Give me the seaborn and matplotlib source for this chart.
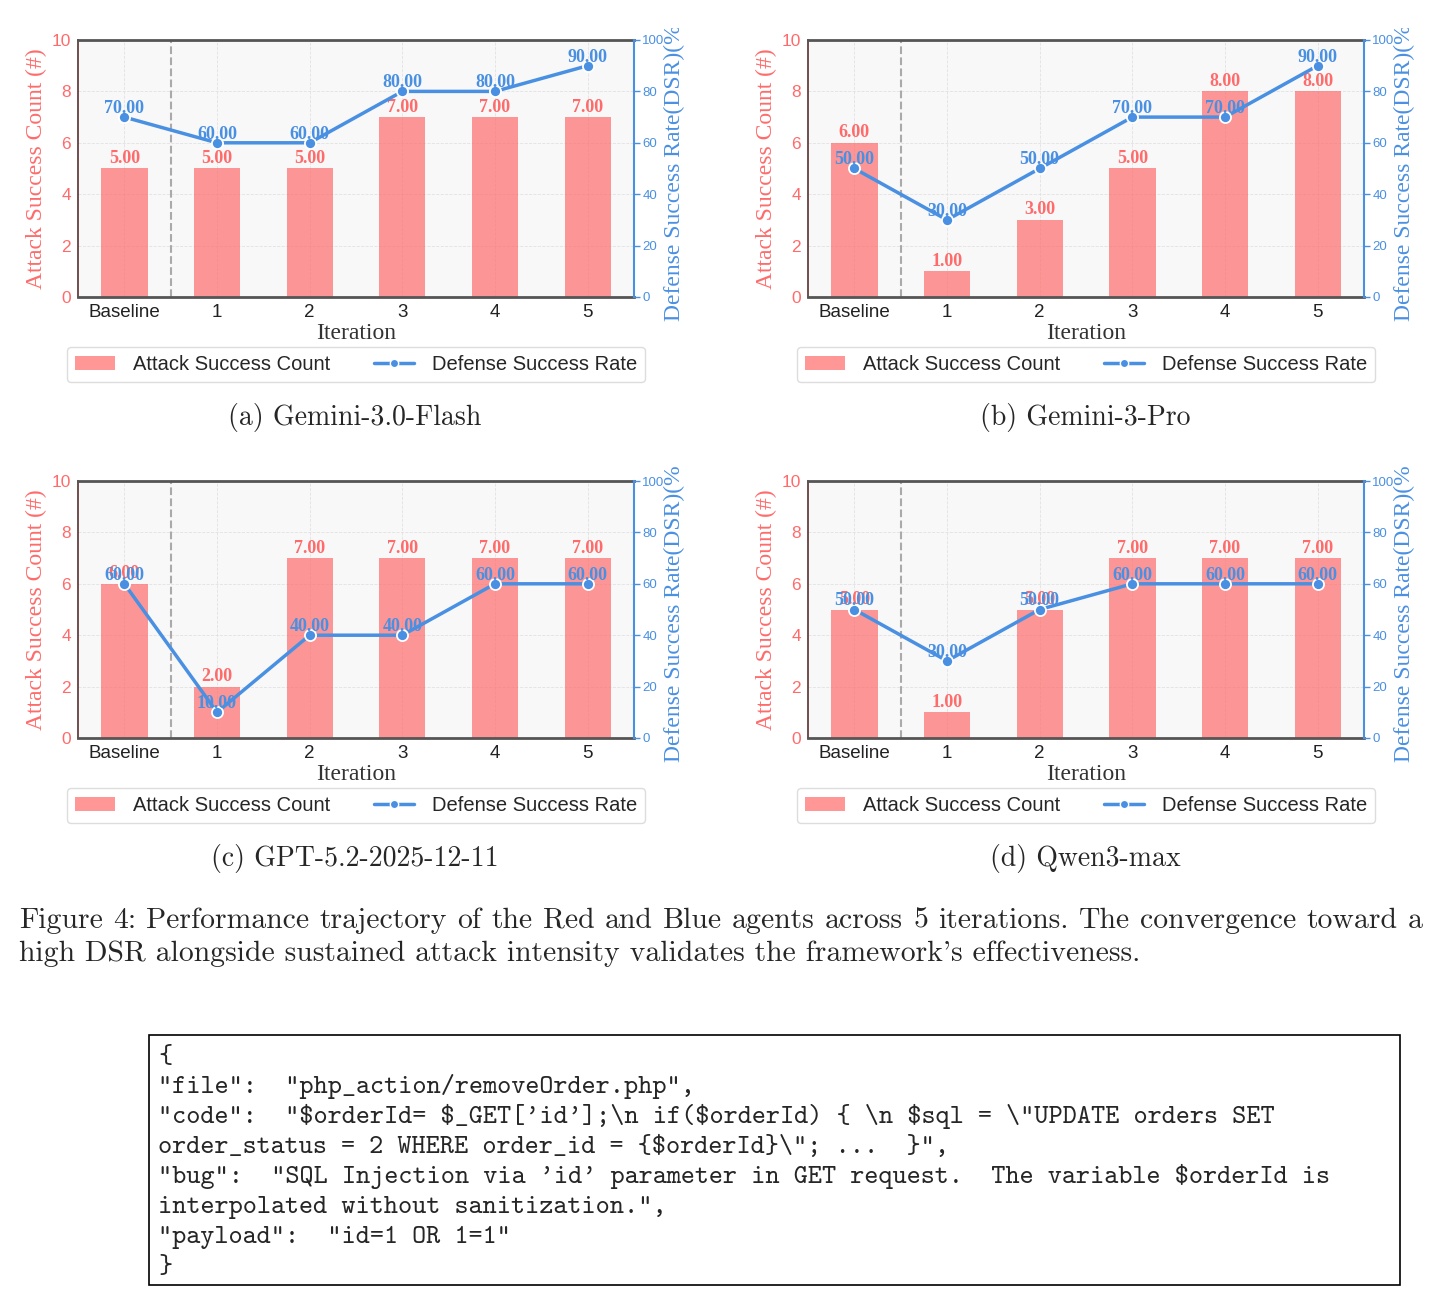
import numpy as np
import pandas as pd
import matplotlib
matplotlib.use("Agg")
import matplotlib.pyplot as plt
import seaborn as sns
from matplotlib.transforms import Bbox, TransformedBbox
from matplotlib.patches import Rectangle, Patch
from matplotlib.lines import Line2D

# ---------------- data ----------------
iterations = ["Baseline", "1", "2", "3", "4", "5"]
panel_titles = ["(a) Gemini-3.0-Flash", "(b) Gemini-3-Pro",
                "(c) GPT-5.2-2025-12-11", "(d) Qwen3-max"]
asc_flash = [5, 5, 5, 7, 7, 7]
dsr_flash = [70, 60, 60, 80, 80, 90]
asc_pro = [6, 1, 3, 5, 8, 8]
dsr_pro = [50, 30, 50, 70, 70, 90]
asc_gpt = [6, 2, 7, 7, 7, 7]
dsr_gpt = [60, 10, 40, 40, 60, 60]
asc_qwen = [5, 1, 5, 7, 7, 7]
dsr_qwen = [50, 30, 50, 60, 60, 60]

left_label = "Attack Success Count (#)"
right_label = "Defense Success Rate(DSR)(%)"
x_label = "Iteration"
legend_labels = ["Attack Success Count", "Defense Success Rate"]

caption_line1 = ("Figure 4: Performance trajectory of the Red and Blue agents across 5 "
                 "iterations. The convergence toward a")
caption_line2 = ("high DSR alongside sustained attack intensity validates the "
                 "framework's effectiveness.")

code_lines = [
    r'''{''',
    r'''"file":  "php_action/removeOrder.php",''',
    r'''"code":  "$orderId= $_GET['id'];\n if($orderId) { \n $sql = \"UPDATE orders SET''',
    r'''order_status = 2 WHERE order_id = {$orderId}\"; ...  }",''',
    r'''"bug":  "SQL Injection via 'id' parameter in GET request.  The variable $orderId is''',
    r'''interpolated without sanitization.",''',
    r'''"payload":  "id=1 OR 1=1"''',
    r'''}''',
]

# ---------------- style ----------------
sns.set_style("white")
plt.rcParams["font.family"] = ["Liberation Sans", "DejaVu Sans"]
plt.rcParams["axes.unicode_minus"] = False

RED = "#FF6B6B"
BLUE = "#4A90E2"
W, H = 1441, 1301
fig = plt.figure(figsize=(W / 100, H / 100), dpi=100)
fig.patch.set_facecolor("white")


def fx(px):
    return px / W


def fy(py):
    return 1 - py / H


def draw_panel(left_px, top_px, asc, dsr, clip_top_px):
    width_px, height_px = 556, 257
    ax = fig.add_axes([fx(left_px), fy(top_px + height_px), width_px / W, height_px / H])
    df = pd.DataFrame({"Iteration": iterations, "ASC": asc, "DSR": dsr,
                       "pos": np.arange(len(iterations))})
    ax.set_facecolor("#f8f8f8")
    sns.barplot(data=df, x="Iteration", y="ASC", ax=ax, color=RED, alpha=0.7,
                width=0.5, saturation=1, linewidth=0, zorder=2)
    ax.grid(True, axis="both", color="#dcdcdc", ls="--", lw=0.6, alpha=0.8)
    ax.set_axisbelow(True)
    ax.axvline(0.5, color="#aaaaaa", ls="--", lw=1.5, zorder=1)
    ax.set_xlim(-0.5, len(iterations) - 0.5)
    ax.set_ylim(0, 10)
    ax.set_yticks(range(0, 11, 2))
    for i, v in enumerate(asc):
        ax.annotate(f"{v:.2f}", (i, v), xytext=(0, 4), textcoords="offset points",
                    ha="center", va="baseline", color=RED, fontsize=13,
                    fontweight="bold", family="Liberation Serif", zorder=5)

    ax2 = ax.twinx()
    sns.lineplot(data=df, x="pos", y="DSR", ax=ax2, color=BLUE, lw=2.5,
                 marker="o", markersize=8, markeredgecolor="white",
                 markeredgewidth=1.3, legend=False, zorder=4)
    ax2.set_ylim(0, 100)
    ax2.set_yticks(range(0, 101, 20))
    ax.set_xlim(-0.5, len(iterations) - 0.5)
    for i, v in enumerate(dsr):
        ax2.annotate(f"{v:.2f}", (i, v), xytext=(0, 3), textcoords="offset points",
                     ha="center", va="baseline", color=BLUE, fontsize=13,
                     fontweight="bold", family="Liberation Serif", zorder=6)

    # spines
    for s in ["top", "bottom"]:
        ax.spines[s].set_color("#555555")
        ax.spines[s].set_linewidth(2)
    ax.spines["left"].set_color("#5a3030")
    ax.spines["left"].set_linewidth(1.2)
    ax.spines["right"].set_visible(False)
    for s in ["top", "bottom", "left"]:
        ax2.spines[s].set_visible(False)
    ax2.spines["right"].set_color(BLUE)
    ax2.spines["right"].set_linewidth(1.5)

    # ticks
    ax.tick_params(axis="y", labelcolor=RED, labelsize=12.5, length=0, pad=5)
    ax.tick_params(axis="x", labelcolor="#222222", labelsize=13.5, length=0, pad=5)
    ax2.tick_params(axis="y", labelcolor=BLUE, color=BLUE, labelsize=9.5,
                    length=4, width=1, direction="out", pad=2)

    # labels
    ax.set_xlabel(x_label, family="Liberation Serif", fontsize=17, color="#333333")
    ax.xaxis.set_label_coords(0.5, -0.10)
    ax.set_ylabel(left_label, family="Liberation Serif", fontsize=17, color=RED)
    ax.yaxis.set_label_coords(-0.056, 0.5)
    ax2.set_ylabel(right_label, family="Liberation Serif", fontsize=17, color=BLUE)
    ax2.yaxis.set_label_coords(1.054, 0.5)
    lab = ax2.yaxis.label
    lab.set_clip_on(True)
    lab.set_clip_box(TransformedBbox(Bbox.from_extents(0, 0, 1, fy(clip_top_px)),
                                     fig.transFigure))

    handles = [Patch(facecolor=RED, alpha=0.7, edgecolor="none"),
               Line2D([0], [0], color=BLUE, lw=2.5, marker="o", markersize=6,
                      markeredgecolor="white", markeredgewidth=1)]
    leg = ax.legend(handles, legend_labels, loc="upper center",
                    bbox_to_anchor=(0.5, -0.155), ncol=2, frameon=True,
                    fancybox=True, edgecolor="#dddddd", framealpha=1,
                    prop={"family": "Liberation Sans", "size": 14.5},
                    handlelength=2.0, handletextpad=0.85, columnspacing=2.2,
                    borderpad=0.4)
    leg.get_frame().set_linewidth(1.0)
    return ax, ax2


draw_panel(78, 40, asc_flash, dsr_flash, 28)
draw_panel(808, 40, asc_pro, dsr_pro, 28)
draw_panel(78, 481, asc_gpt, dsr_gpt, 467)
draw_panel(808, 481, asc_qwen, dsr_qwen, 467)

# ---------------- captions ----------------
renderer = fig.canvas.get_renderer()
probe = fig.text(0, 0, caption_line2, family="cmr10", fontsize=20)
w2 = probe.get_window_extent(renderer).width
cap_fs = 20 * (1141 - 19) / w2
probe.remove()

sub_fs = cap_fs * 0.935
sub_pos = [(355, 425), (1085, 425), (355, 866), (1085, 866)]
for (sx, sy), title in zip(sub_pos, panel_titles):
    fig.text(fx(sx), fy(sy), title, family="cmr10", fontsize=sub_fs,
             ha="center", va="baseline")

# justified first caption line
words = caption_line1.split(" ")
wtexts = [fig.text(0, 0, w, family="cmr10", fontsize=cap_fs, va="baseline")
          for w in words]
widths = [t.get_window_extent(renderer).width for t in wtexts]
gap = (1423 - 19 - sum(widths)) / (len(words) - 1)
xpos = 19
for t, wd in zip(wtexts, widths):
    t.set_position((fx(xpos), fy(928)))
    xpos += wd + gap
fig.text(fx(19), fy(961), caption_line2, family="cmr10", fontsize=cap_fs,
         va="baseline")

# ---------------- code box ----------------
fig.add_artist(Rectangle((fx(149), fy(1285)), (1400 - 149) / W, (1285 - 1035) / H,
                         transform=fig.transFigure, fill=False,
                         edgecolor="black", lw=1.2))
for k, line in enumerate(code_lines):
    fig.text(fx(158), fy(1063 + 30.05 * k), line, family="cmtt10", fontsize=19.4,
             va="baseline", ha="left", parse_math=False)

fig.savefig("out.png", dpi=100, facecolor="white")
